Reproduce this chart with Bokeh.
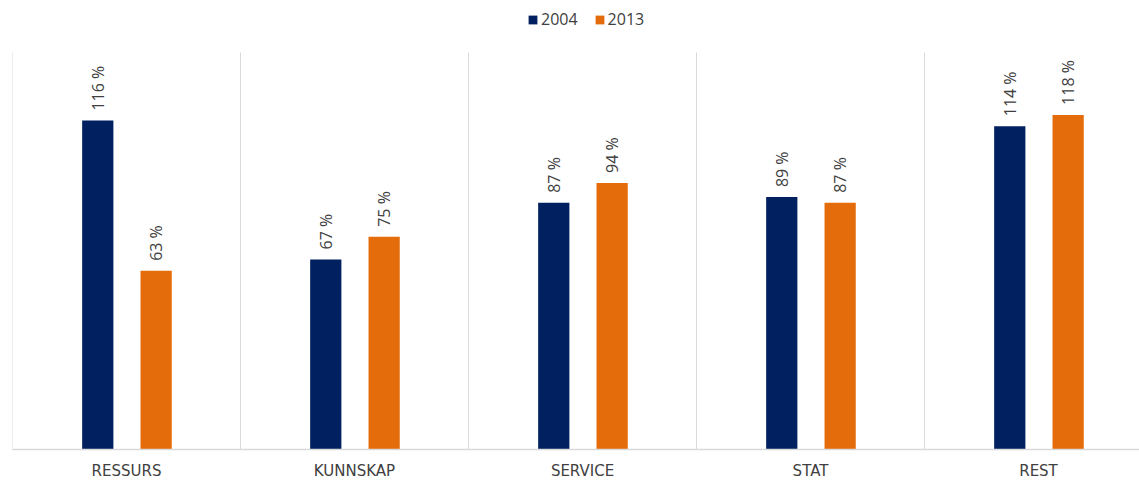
import numpy as np
import pandas as pd
from bokeh.plotting import figure
from bokeh.models import ColumnDataSource, Range1d, FixedTicker, Legend, LegendItem
from bokeh.transform import dodge
from bokeh.core.properties import value
from bokeh.embed import file_html
from bokeh.resources import INLINE

categories = ["RESSURS", "KUNNSKAP", "SERVICE", "STAT", "REST"]
series_names = ["2004", "2013"]
values_2004 = [116, 67, 87, 89, 114]
values_2013 = [63, 75, 94, 87, 118]
colors = ["#002060", "#E46C0A"]

YMAX = 140  # value-axis maximum of the chart area

pos = np.arange(len(categories)) + 0.5
src = ColumnDataSource(pd.DataFrame({
    "x": pos,
    "v2004": values_2004,
    "v2013": values_2013,
    "l2004": [f"{v} %" for v in values_2004],
    "l2013": [f"{v} %" for v in values_2013],
}))

W, H = 1139, 482
LEFT, BOTTOM = 12, 33
PLOT_TOP = 52                # where the chart area starts (legend sits above it)
frame_h = H - BOTTOM         # frame spans from the top of the canvas
area_h = frame_h - PLOT_TOP  # height of the chart area itself

p = figure(width=W, height=H, output_backend="svg", toolbar_location=None,
           x_range=Range1d(0, (W - LEFT) / 228),
           y_range=Range1d(0, YMAX * frame_h / area_h),
           min_border_left=LEFT, min_border_right=0, min_border_top=0,
           min_border_bottom=BOTTOM)
p.outline_line_color = None
p.background_fill_color = "white"
p.xgrid.visible = False
p.ygrid.visible = False
p.yaxis.visible = False

# category separators (vertical lines between groups)
bounds = np.arange(len(categories) + 1)
p.segment(x0=bounds, y0=0, x1=bounds, y1=YMAX, line_color="#D9D9D9", line_width=1)

offsets = [-0.126, 0.13]
rends = []
for name, col, off in zip(series_names, colors, offsets):
    r = p.vbar(x=dodge("x", off), top="v" + name, width=0.137, source=src,
               fill_color=col, line_color=None)
    rends.append(r)
    p.text(x=dodge("x", off), y="v" + name, text="l" + name, source=src,
           angle=np.pi / 2, text_align="left", text_baseline="middle",
           y_offset=-10, text_font=value("Open Sans"), text_font_size="16px",
           text_color="#404040")

ax = p.xaxis[0]
ax.ticker = FixedTicker(ticks=list(pos))
ax.major_label_overrides = {float(x): c for x, c in zip(pos, categories)}
ax.major_tick_line_color = None
ax.major_tick_out = 0
ax.major_tick_in = 0
ax.minor_tick_line_color = None
ax.minor_tick_out = 0
ax.axis_line_color = "#D9D9D9"
ax.axis_line_width = 1.5
ax.major_label_standoff = 12
ax.major_label_text_font = "DejaVu Sans"
ax.major_label_text_font_size = "15px"
ax.major_label_text_color = "#404040"

legend = Legend(items=[LegendItem(label=n, renderers=[r]) for n, r in zip(series_names, rends)],
                orientation="horizontal", location=(515, frame_h - 30),
                glyph_width=11, glyph_height=11, label_standoff=3, spacing=16,
                padding=0, margin=0, border_line_color=None, background_fill_alpha=0,
                label_text_font="Open Sans", label_text_font_size="16px",
                label_text_color="#404040", label_height=20)
p.add_layout(legend, "center")

open("out.html", "w").write(file_html(p, INLINE))
